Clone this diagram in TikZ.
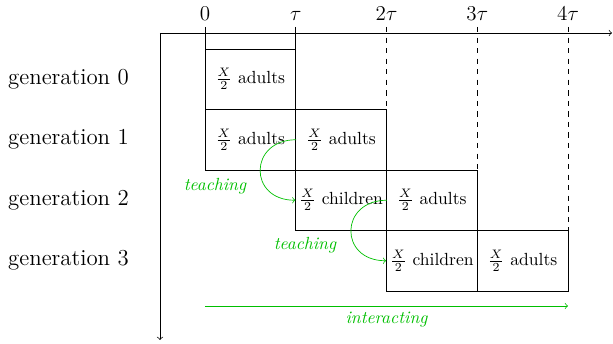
\documentclass[tikz,border=0pt]{standalone}
\usepackage{amsmath}
\usetikzlibrary{positioning}

\begin{document}
\begin{tikzpicture}[
        cell/.style={draw, minimum width=1.815cm, minimum height=1.21cm, inner sep=0pt},
        genlabel/.style={anchor=east, font=\fontsize{13}{16}\selectfont},
        ticklabel/.style={above, font=\large},
        teach/.style={->, green!75!black, out=180, in=180, looseness=2},
        note/.style={green!75!black, font=\itshape}
    ]
        \useasboundingbox (-4.1,0.98) rectangle (8.16,-5.9);

        % Axes: time to the right, generations downwards
        \coordinate (O) at (-0.9,0.32);
        \coordinate (T) at (8.14,0.32);
        \coordinate (G) at (-0.9,-5.82);
        \draw[->] (O) -- (T);
        \draw[->] (O) -- (G);

        % Time ticks, tau = 1.815cm
        \foreach \i/\lab in {0/0, 1/\tau} {
            \draw (\i*1.815,0.44) node[ticklabel] {$\lab$} -- (\i*1.815,0);
        }
        \foreach \i/\lab in {2/2\tau, 3/3\tau, 4/4\tau} {
            \draw[dashed] (\i*1.815,0.44) node[ticklabel] {$\lab$} -- (\i*1.815,{-(\i-1)*1.21});
        }

        % Generation labels
        \node[genlabel] (l0) at (-1.4,-0.605) {generation 0};
        \node[genlabel] (l1) at (-1.4,-1.815) {generation 1};
        \node[genlabel] (l2) at (-1.4,-3.025) {generation 2};
        \node[genlabel] (l3) at (-1.4,-4.235) {generation 3};

        % Population cells
        \node[cell] (g0a) at (0.9075,-0.605) {$\frac{X}{2}$ adults};
        \node[cell] (g1a) at (0.9075,-1.815) {$\frac{X}{2}$ adults};
        \node[cell] (g1b) at (2.7225,-1.815) {$\frac{X}{2}$ adults};
        \node[cell] (g2c) at (2.7225,-3.025) {$\frac{X}{2}$ children};
        \node[cell] (g2a) at (4.5375,-3.025) {$\frac{X}{2}$ adults};
        \node[cell] (g3c) at (4.5375,-4.235) {$\frac{X}{2}$ children};
        \node[cell] (g3a) at (6.3525,-4.235) {$\frac{X}{2}$ adults};

        % Teaching from one generation to the next
        \draw[teach] (g1a.east) to (g2c.west);
        \draw[teach] (g2c.east) to (g3c.west);
        \node[note] (t1) at (0.2,-2.74) {teaching};
        \node[note] (t2) at (2.0,-3.92) {teaching};

        % Interaction over the whole time span
        \coordinate (i0) at (0,-5.14);
        \coordinate (i1) at (7.26,-5.14);
        \draw[->, green!75!black] (i0) -- node[below, note] (ia) {interacting} (i1);
    \end{tikzpicture}
\end{document}
